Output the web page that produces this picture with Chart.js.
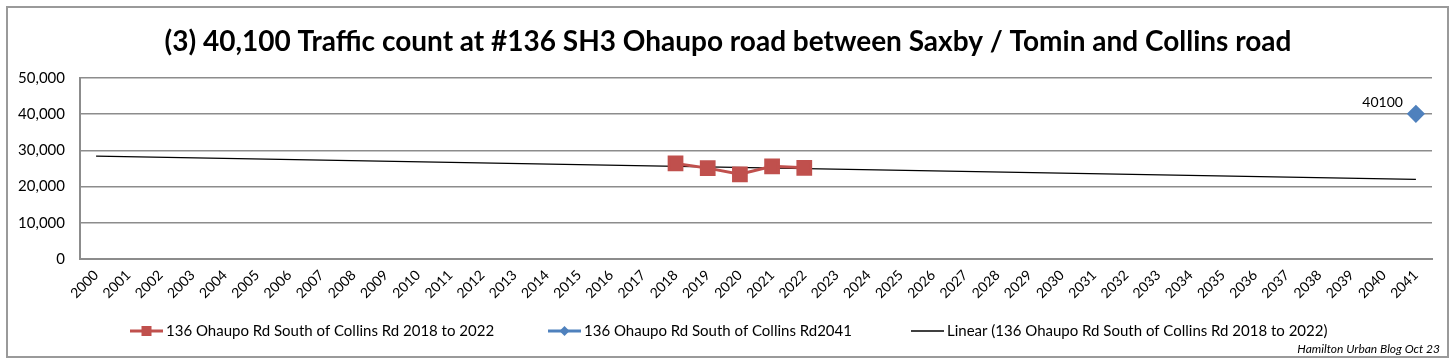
<!DOCTYPE html>
<html>
<head>
<meta charset="utf-8">
<script src="https://cdn.jsdelivr.net/npm/chart.js@4"></script>
<style>
  html, body { margin: 0; padding: 0; background: #fff; }
  #wrap { position: relative; width: 1456px; height: 363px; }
  #frame { position: absolute; left: 6px; top: 6px; width: 1443px; height: 352px; border: 2px solid #9a9a9a; box-sizing: border-box; pointer-events: none; }
  #note { position: absolute; right: 16px; top: 341px; font: italic 12px Lato, sans-serif; color: #000; }
</style>
</head>
<body>
<div id="wrap">
  <canvas id="chartTraffic" width="1456" height="363"></canvas>
  <div id="frame"></div>
  <div id="note">Hamilton Urban Blog Oct 23</div>
</div>
<script>
// --- data ---
const years = [];
for (let y = 2000; y <= 2041; y++) years.push(String(y));

const countYears = ['2018', '2019', '2020', '2021', '2022'];
const countValues = [26400, 25100, 23400, 25600, 25200];

const forecastYear = '2041';
const forecastValue = 40100;

// trend line ends (Excel linear trendline, read at 2000 and 2041)
const trendYears = ['2000', '2041'];
const trendValues = [28400, 22000];

const yTicks = [0, 10000, 20000, 30000, 40000, 50000];

const TITLE = '(3) 40,100 Traffic count at #136 SH3 Ohaupo road between Saxby / Tomin and Collins road';
const FONT = 'Lato, "Open Sans", sans-serif';
const RED = '#C0504D';
const BLUE = '#4F81BD';

function seriesOf(xs, vs) {
    return years.map(yr => {
        const i = xs.indexOf(yr);
        return i < 0 ? null : vs[i];
    });
}

const legendItems = [
    { label: '136 Ohaupo Rd South of Collins Rd 2018 to 2022', color: RED, marker: 'rect', x: 130 },
    { label: '136 Ohaupo Rd South of Collins Rd2041', color: BLUE, marker: 'diamond', x: 548 },
    { label: 'Linear (136 Ohaupo Rd South of Collins Rd 2018 to 2022)', color: '#000', marker: null, x: 911 }
];

// title centred on the page, custom legend + data label
const extras = {
    id: 'extras',
    afterDraw(chart) {
        const ctx = chart.ctx;
        ctx.save();
        ctx.fillStyle = '#000';
        ctx.textAlign = 'center';
        ctx.textBaseline = 'middle';
        ctx.font = 'bold 28px ' + FONT;
        ctx.fillText(TITLE, chart.width / 2, 42);

        // "40100" label next to the blue point
        const pt = chart.getDatasetMeta(1).data[years.indexOf(forecastYear)];
        ctx.font = '14px ' + FONT;
        ctx.textAlign = 'right';
        ctx.fillText(String(forecastValue), pt.x - 13, pt.y - 11);

        // legend
        const ly = 331;
        ctx.font = '15px ' + FONT;
        ctx.textAlign = 'left';
        legendItems.forEach(it => {
            ctx.strokeStyle = it.color;
            ctx.lineWidth = it.marker ? 3 : 1.3;
            ctx.beginPath();
            ctx.moveTo(it.x, ly);
            ctx.lineTo(it.x + 33, ly);
            ctx.stroke();
            ctx.fillStyle = it.color;
            const cx = it.x + 16.5;
            if (it.marker === 'rect') {
                ctx.fillRect(cx - 5, ly - 5, 10, 10);
            } else if (it.marker === 'diamond') {
                ctx.beginPath();
                ctx.moveTo(cx, ly - 5);
                ctx.lineTo(cx + 5, ly);
                ctx.lineTo(cx, ly + 5);
                ctx.lineTo(cx - 5, ly);
                ctx.closePath();
                ctx.fill();
            }
            ctx.fillStyle = '#000';
            ctx.fillText(it.label, it.x + 36, ly);
        });
        ctx.restore();
    }
};

const ctxTraffic = document.getElementById('chartTraffic').getContext('2d');
new Chart(ctxTraffic, {
    type: 'line',
    data: {
        labels: years,
        datasets: [{
            label: legendItems[0].label,
            data: seriesOf(countYears, countValues),
            borderColor: RED,
            backgroundColor: RED,
            borderWidth: 3,
            pointStyle: 'rect',
            pointRadius: 9,
            pointHoverRadius: 9,
            spanGaps: false
        }, {
            label: legendItems[1].label,
            data: seriesOf([forecastYear], [forecastValue]),
            borderColor: BLUE,
            backgroundColor: BLUE,
            borderWidth: 3,
            pointStyle: 'rectRot',
            pointRadius: 7,
            pointHoverRadius: 7
        }, {
            label: legendItems[2].label,
            data: seriesOf(trendYears, trendValues),
            borderColor: '#000',
            borderWidth: 1.3,
            pointRadius: 0,
            spanGaps: true
        }]
    },
    options: {
        responsive: false,
        animation: false,
        layout: { padding: { left: 0, right: 24, top: 78, bottom: 56 } },
        plugins: {
            legend: { display: false },
            tooltip: { enabled: false },
            title: { display: false }
        },
        scales: {
            x: {
                offset: true,
                grid: { display: false, drawTicks: false },
                border: { display: true, color: '#8c8c8c', width: 2 },
                ticks: {
                    color: '#000',
                    font: { family: FONT, size: 14 },
                    maxRotation: 45,
                    minRotation: 45,
                    autoSkip: false,
                    padding: 8
                },
                afterFit(scale) { scale.height = 48; }
            },
            y: {
                min: 0,
                max: 50000,
                afterBuildTicks(scale) { scale.ticks = yTicks.map(v => ({ value: v })); },
                grid: { color: '#8c8c8c', lineWidth: 1.5, drawTicks: false },
                border: { display: true, color: '#8c8c8c', width: 2 },
                ticks: {
                    color: '#000',
                    font: { family: FONT, size: 15 },
                    padding: 15,
                    callback: v => v.toLocaleString('en-US')
                },
                afterFit(scale) { scale.width = 80; }
            }
        }
    },
    plugins: [extras]
});
</script>
</body>
</html>
